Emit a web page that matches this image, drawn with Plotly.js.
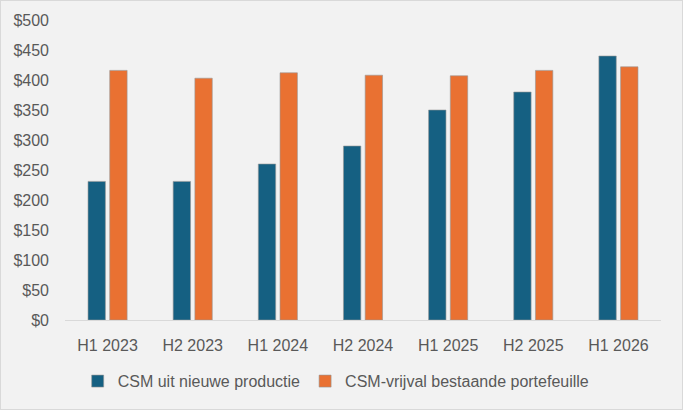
<!DOCTYPE html>
<html>
<head>
<meta charset="utf-8">
<script src="https://cdn.plot.ly/plotly-3.0.1.min.js"></script>
<style>
  html, body { margin: 0; padding: 0; background: #ffffff; }
  #chart { width: 681px; height: 408px; border: 1px solid #d9d9d9; }
</style>
</head>
<body>
<div id="chart"></div>
<script>
// periods on the x axis
var periods = ["H1 2023", "H2 2023", "H1 2024", "H2 2024", "H1 2025", "H2 2025", "H1 2026"];

// CSM values
var nieuwe_productie = [231, 231, 260, 290, 350, 380, 440];
var vrijval_portefeuille = [416, 403, 412, 408, 407, 416, 422];

var series_names = ["CSM uit nieuwe productie", "CSM-vrijval bestaande portefeuille"];
var series_colors = ["#156082", "#E97132"];

var text_color = "#595959";
var font_family = "'Liberation Sans', Arial, sans-serif";

function make_trace(values, i) {
    return {
        x: periods,
        y: values,
        name: series_names[i],
        type: 'bar',
        marker: {
            color: series_colors[i],
            line: { color: 'rgba(150,150,150,0.6)', width: 1 }
        },
        hoverinfo: 'x+y'
    }
}

var data = [
    make_trace(nieuwe_productie, 0),
    make_trace(vrijval_portefeuille, 1)
];

var layout = {
    width: 681,
    height: 408,
    paper_bgcolor: '#f2f2f2',
    plot_bgcolor: '#f2f2f2',
    margin: { l: 64, r: 21, t: 19, b: 88 },
    font: { family: font_family, size: 16, color: text_color },
    barmode: 'group',
    bargap: 0.49,
    bargroupgap: 0.2,
    showlegend: true,
    legend: {
        orientation: 'h',
        x: 0.455,
        xanchor: 'center',
        y: -0.2,
        yanchor: 'middle',
        font: { family: font_family, size: 16, color: text_color },
        bgcolor: 'rgba(0,0,0,0)'
    },
    xaxis: {
        showgrid: false,
        showline: true,
        linecolor: '#d9d9d9',
        linewidth: 1,
        ticks: '',
        ticklabelstandoff: 11,
        tickfont: { size: 16, color: text_color }
    },
    yaxis: {
        range: [0, 500],
        dtick: 50,
        tickprefix: '$',
        showgrid: false,
        zeroline: false,
        showline: false,
        ticks: '',
        ticklabelstandoff: 15,
        tickfont: { size: 16, color: text_color }
    }
};

Plotly.newPlot('chart', data, layout, { staticPlot: true, responsive: false, displayModeBar: false });
</script>
</body>
</html>
